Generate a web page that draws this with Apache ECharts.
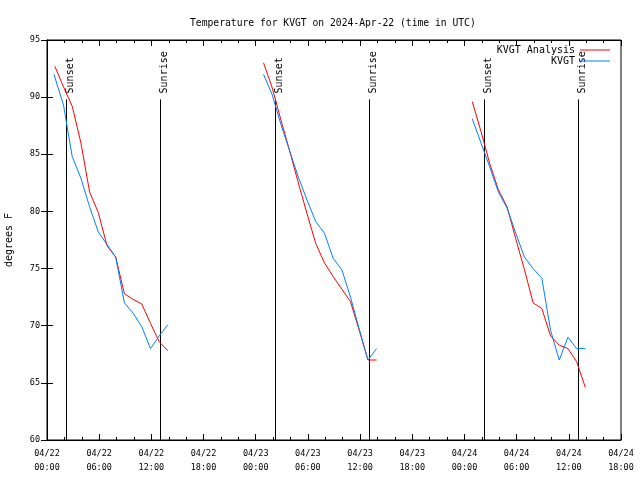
<!DOCTYPE html>
<html>
<head>
<meta charset="utf-8">
<script src="https://cdn.jsdelivr.net/npm/echarts@6/dist/echarts.min.js"></script>
<style>
html,body{margin:0;padding:0;background:#fff;}
#chart{width:640px;height:480px;}
</style>
</head>
<body>
<div id="chart"></div>
<script>
// Hours since 2024-04-22 00:00 UTC
const analysisHours = [0.9,1.9,2.9,3.9,4.9,5.9,6.9,7.9,8.9,9.9,10.9,11.9,12.9,13.9,
  24.9,25.9,26.9,27.9,28.9,29.9,30.9,31.9,32.9,33.9,34.9,35.9,36.9,37.9,
  48.9,49.9,50.9,51.9,52.9,53.9,54.9,55.9,56.9,57.9,58.9,59.9,60.9,61.9];
const analysisTemps = [92.7,90.9,89.2,86.0,81.7,79.9,77.0,76.0,72.8,72.3,71.9,70.2,68.6,67.8,
  93.0,90.8,88.0,85.3,82.5,79.8,77.2,75.5,74.3,73.2,72.1,69.6,67.0,67.0,
  89.6,87.0,84.2,81.9,80.4,77.6,74.9,72.0,71.5,69.1,68.3,68.0,66.85,64.6];
const obsHours = [0.8,1.9,2.9,3.9,4.9,5.9,6.9,7.9,8.9,9.9,10.9,11.9,12.9,13.9,
  24.9,25.9,26.9,27.9,28.9,29.9,30.9,31.9,32.9,33.9,34.9,35.9,36.9,37.9,
  48.9,49.9,50.9,51.9,52.9,53.9,54.9,55.9,56.9,57.9,58.9,59.9,60.9,61.9];
const obsTemps = [92.0,89.3,84.8,82.9,80.4,78.2,77.1,76.0,72.0,71.1,69.9,68.0,69.1,70.1,
  92.0,90.2,87.6,85.3,83.0,81.0,79.1,78.1,75.9,74.9,72.5,69.7,67.0,68.0,
  88.1,86.0,83.9,81.7,80.3,78.1,76.0,75.0,74.15,69.6,67.0,69.0,68.0,68.0];
const sunEventHours = [2.2,13.0,26.2,37.0,50.2,61.0];
const sunEventLabels = ['Sunset','Sunrise','Sunset','Sunrise','Sunset','Sunrise'];
const sunLineTop = 89.8;
const seriesNames = ['KVGT Analysis','KVGT'];
const titleText = 'Temperature for KVGT on 2024-Apr-22 (time in UTC)';
const yAxisName = 'degrees F';

const FONT = '"DejaVu Sans Mono", monospace';

function buildPairs(hours, temps) {
  const out = [];
  for (let i = 0; i < hours.length; i++) {
    if (i > 0 && hours[i] - hours[i-1] > 3) out.push([(hours[i] + hours[i-1]) / 2, null]);
    out.push([hours[i], temps[i]]);
  }
  return out;
}
function pad(n){ return (n < 10 ? '0' : '') + n; }
function xFmt(h) {
  const day = 22 + Math.floor(h / 24);
  const hh = Math.round(h % 24);
  return '04/' + day + '\n' + pad(hh) + ':00';
}

const chart = echarts.init(document.getElementById('chart'), null, {renderer:'canvas'});
const axisCommon = {
  axisLine:{show:true, lineStyle:{color:'#000', width:1}},
  splitLine:{show:false}
};
const option = {
  animation:false,
  backgroundColor:'#fff',
  title:{text:titleText, left:185, top:13,
    textStyle:{fontFamily:FONT, fontSize:9.7, fontWeight:'normal', color:'#000'}},
  grid:{left:47, right:19, top:40, bottom:40, show:true, borderColor:'#000', borderWidth:1,
    backgroundColor:'transparent', containLabel:false, outerBoundsMode:'none'},
  legend:[
    {data:[seriesNames[0]], right:30, top:45, orient:'vertical', align:'right', padding:0,
     icon:'rect', itemWidth:30, itemHeight:1, itemStyle:{borderWidth:0},
     textStyle:{fontFamily:FONT, fontSize:10, color:'#000'}},
    {data:[seriesNames[1]], right:30, top:56, orient:'vertical', align:'right', padding:0,
     icon:'rect', itemWidth:30, itemHeight:1, itemStyle:{borderWidth:0},
     textStyle:{fontFamily:FONT, fontSize:10, color:'#000'}}
  ],
  xAxis:[
    Object.assign({type:'value', min:0, max:66, interval:6, position:'bottom',
      axisTick:{show:true, inside:true, length:6, lineStyle:{color:'#000'}},
      minorTick:{show:true, splitNumber:3, length:3, lineStyle:{color:'#000'}},
      axisLabel:{formatter:xFmt, fontFamily:FONT, fontSize:8.5, color:'#000', lineHeight:14, margin:7}
    }, axisCommon),
    Object.assign({type:'value', min:0, max:66, interval:6, position:'top',
      axisTick:{show:true, inside:true, length:6, lineStyle:{color:'#000'}},
      minorTick:{show:true, splitNumber:3, length:3, lineStyle:{color:'#000'}},
      axisLabel:{show:false}
    }, axisCommon)
  ],
  yAxis:[
    Object.assign({type:'value', min:60, max:95, interval:5, position:'left',
      axisTick:{show:true, inside:true, length:6, lineStyle:{color:'#000'}},
      axisLabel:{fontFamily:FONT, fontSize:8.5, color:'#000', margin:7},
      name:yAxisName, nameLocation:'middle', nameGap:33,
      nameTextStyle:{fontFamily:FONT, fontSize:10, color:'#000'}
    }, axisCommon),
    Object.assign({type:'value', min:60, max:95, interval:5, position:'right',
      axisTick:{show:true, inside:true, length:6, lineStyle:{color:'#000'}},
      axisLabel:{show:false}
    }, axisCommon)
  ],
  series:[
    {type:'custom', name:'sun', xAxisIndex:0, yAxisIndex:0, clip:false, silent:true,
     data: sunEventHours.map((h,i)=>[h,i]),
     encode:{x:0},
     renderItem:function(params, api){
       const h = api.value(0);
       const lbl = sunEventLabels[api.value(1)];
       const b = api.coord([h, 60]);
       const t = api.coord([h, sunLineTop]);
       const x = Math.round(b[0]) + 0.5;
       return {type:'group', children:[
         {type:'line', shape:{x1:x, y1:b[1], x2:x, y2:t[1]}, style:{stroke:'#000', lineWidth:1}},
         {type:'text', x:x + 4, y:t[1] - 6, rotation:Math.PI/2,
          style:{text:lbl, font:'10px ' + FONT, fill:'#000', align:'left', verticalAlign:'middle'}}
       ]};
     }},
    {type:'line', name:seriesNames[0], data:buildPairs(analysisHours, analysisTemps),
     showSymbol:false, symbol:'none', connectNulls:false, color:'#ff0000',
     lineStyle:{color:'#ff0000', width:1}, z:3},
    {type:'line', name:seriesNames[1], data:buildPairs(obsHours, obsTemps),
     showSymbol:false, symbol:'none', connectNulls:false, color:'#0080ff',
     lineStyle:{color:'#0080ff', width:1}, z:4}
  ]
};
chart.setOption(option);
</script>
</body>
</html>
